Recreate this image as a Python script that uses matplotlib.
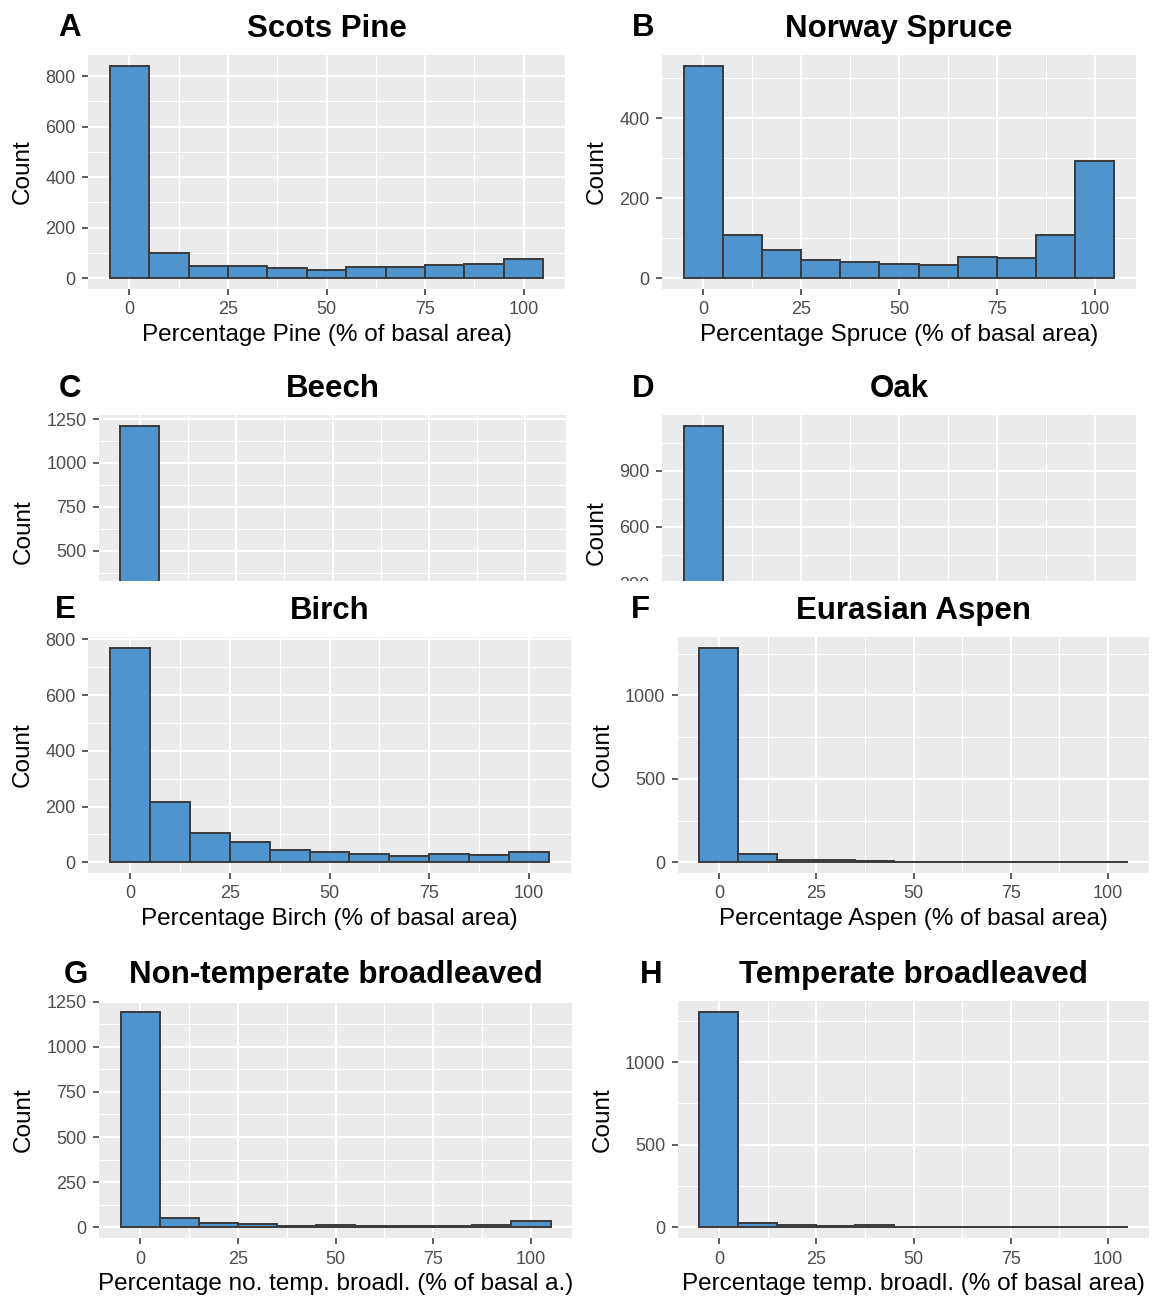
import matplotlib
matplotlib.use("Agg")
import matplotlib.pyplot as plt
from matplotlib.patches import Rectangle
from matplotlib.ticker import MultipleLocator, FixedLocator

plt.rcParams['font.family'] = ['Liberation Sans', 'DejaVu Sans']

# ---------------- data ----------------
bin_centers = [0, 10, 20, 30, 40, 50, 60, 70, 80, 90, 100]
x_ticks = [0, 25, 50, 75, 100]

pine     = [841, 99, 49, 50, 39, 33, 46, 46, 51, 58, 76]
spruce   = [531, 108, 71, 45, 41, 36, 33, 53, 50, 109, 292]
beech    = [1213, 90, 35, 15, 10, 8, 6, 5, 4, 3, 5]
oak      = [1140, 130, 50, 25, 14, 8, 5, 4, 3, 2, 3]
birch    = [770, 217, 104, 74, 43, 36, 29, 23, 29, 25, 36]
aspen    = [1285, 48, 16, 14, 5, 4, 4, 4, 3, 2, 3]
non_temp = [1194, 52, 26, 19, 9, 13, 7, 9, 9, 15, 35]
temp     = [1306, 26, 16, 8, 14, 4, 3, 2, 3, 2, 2]

series = [pine, spruce, beech, oak, birch, aspen, non_temp, temp]
titles = ["Scots Pine", "Norway Spruce", "Beech", "Oak", "Birch",
          "Eurasian Aspen", "Non-temperate broadleaved", "Temperate broadleaved"]
letters = ["A", "B", "C", "D", "E", "F", "G", "H"]
xlabels = ["Percentage Pine (% of basal area)",
           "Percentage Spruce (% of basal area)",
           "Percentage Beech (% of basal area)",
           "Percentage Oak (% of basal area)",
           "Percentage Birch (% of basal area)",
           "Percentage Aspen (% of basal area)",
           "Percentage no. temp. broadl. (% of basal a.)",
           "Percentage temp. broadl. (% of basal area)"]
y_step = [200, 200, 250, 300, 200, 500, 250, 500]

# ---------------- layout (pixels) ----------------
W, H = 1164, 1300
DPI = 100
rects = [  # left, top, right, bottom
    (88, 55, 565, 289),
    (662, 55, 1136, 289),
    (99, 415, 566, 649),
    (662, 415, 1136, 650),
    (88, 637, 571, 873),
    (678, 637, 1149, 873),
    (99, 1001, 572, 1238),
    (678, 1001, 1149, 1238),
]
letter_pos = [(70, 36), (643, 36), (70, 397), (643, 397),
              (65, 618), (640, 618), (76, 983), (651, 983)]
CUT = 581  # lower row covers panels C and D below this pixel row

fig = plt.figure(figsize=(W / DPI, H / DPI), dpi=DPI)
fig.patch.set_facecolor("white")

BAR = "#4F94CD"
EDGE = "#3A3A3A"
PANEL = "#EBEBEB"

axes = []
for i, (vals, r) in enumerate(zip(series, rects)):
    l, t, rr, b = r
    ax = fig.add_axes([l / W, 1 - b / H, (rr - l) / W, (b - t) / H])
    ax.set_zorder(0 if i < 4 else 1)
    ax.set_facecolor(PANEL)
    ax.bar(bin_centers, vals, width=10, color=BAR, edgecolor=EDGE,
           linewidth=1.4, zorder=3)
    ax.use_sticky_edges = False
    ax.margins(x=0.05, y=0.05)
    ax.xaxis.set_major_locator(FixedLocator(x_ticks))
    ax.xaxis.set_minor_locator(MultipleLocator(12.5))
    ax.yaxis.set_major_locator(MultipleLocator(y_step[i]))
    ax.yaxis.set_minor_locator(MultipleLocator(y_step[i] / 2))
    ax.set_axisbelow(True)
    ax.grid(which="major", color="white", linewidth=1.5)
    ax.grid(which="minor", color="white", linewidth=0.75)
    for s in ax.spines.values():
        s.set_visible(False)
    ax.tick_params(which="major", direction="out", length=4.0, width=1.1,
                   color="#333333", labelcolor="#4D4D4D", labelsize=13, pad=5)
    ax.tick_params(which="minor", length=0)
    ax.set_xlabel(xlabels[i], fontsize=17.5, color="black", labelpad=4)
    ax.set_ylabel("Count", fontsize=17.5, color="black", labelpad=8)
    ax.set_title(titles[i], fontsize=22.5, fontweight="bold", pad=13)
    lx, ly = letter_pos[i]
    fig.text(lx / W, 1 - ly / H, letters[i], fontsize=22.5, fontweight="bold",
             ha="center", va="baseline")
    axes.append(ax)

# panels C and D: their lower part is hidden behind the lower row
fig.canvas.draw()
for ax in axes[2:4]:
    ax.xaxis.label.set_visible(False)
    for lab in ax.get_xticklabels():
        lab.set_visible(False)
    for tick in ax.yaxis.get_major_ticks():
        y_pix = H - ax.transData.transform((0, tick.get_loc()))[1]
        if y_pix > CUT + 5:
            tick.label1.set_visible(False)

cover = Rectangle((0, 1 - 760 / H), 1, (760 - CUT) / H, transform=fig.transFigure,
                  facecolor="white", edgecolor="none", zorder=0.5)
fig.add_artist(cover)

fig.savefig("out.png", dpi=DPI)
